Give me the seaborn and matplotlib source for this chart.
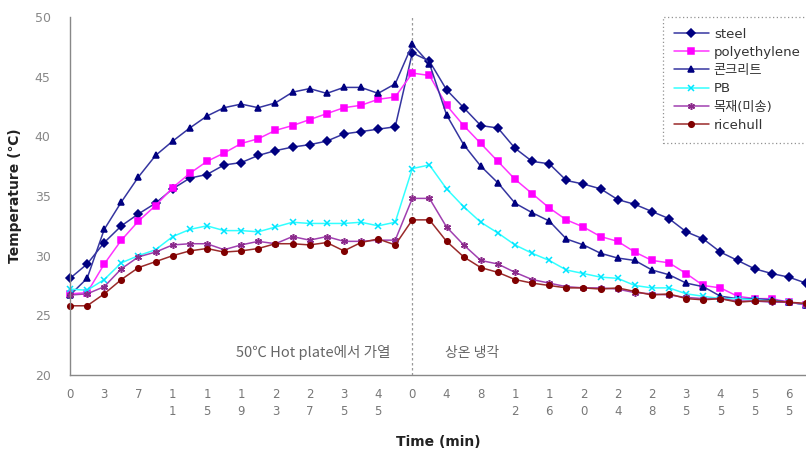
import numpy as np
import pandas as pd
import matplotlib
matplotlib.use("Agg")
import matplotlib.pyplot as plt
import seaborn as sns

# Sampling points: 20 readings while heating, 24 while cooling
heat_labels = ["0", "", "3", "", "7", "", "11", "", "15", "", "19", "", "23", "", "27", "", "35", "", "45", ""]
cool_labels = ["0", "", "4", "", "8", "", "12", "", "16", "", "20", "", "24", "", "28", "", "35", "", "45", "", "55", "", "65", ""]

steel = [28.1, 29.3, 31.1, 32.5, 33.5, 34.4, 35.6, 36.5, 36.8, 37.6, 37.8, 38.4, 38.8, 39.1, 39.3, 39.6, 40.2, 40.4, 40.6, 40.8,
         47.0, 46.3, 43.9, 42.4, 40.9, 40.7, 39.0, 37.9, 37.7, 36.3, 36.0, 35.6, 34.7, 34.3, 33.7, 33.1, 32.0, 31.4, 30.3, 29.6, 28.9, 28.5, 28.2, 27.7]
polyethylene = [26.8, 26.9, 29.3, 31.3, 32.9, 34.2, 35.7, 36.9, 37.9, 38.6, 39.4, 39.8, 40.5, 40.9, 41.4, 41.9, 42.4, 42.6, 43.1, 43.3,
                45.3, 45.1, 42.6, 40.9, 39.4, 37.9, 36.4, 35.2, 34.0, 33.0, 32.4, 31.6, 31.2, 30.3, 29.6, 29.4, 28.5, 27.5, 27.3, 26.6, 26.4, 26.4, 26.1, 25.9]
concrete = [26.7, 28.1, 32.2, 34.5, 36.6, 38.4, 39.6, 40.7, 41.7, 42.4, 42.7, 42.4, 42.8, 43.7, 44.0, 43.6, 44.1, 44.1, 43.6, 44.4,
            47.7, 46.1, 41.8, 39.3, 37.5, 36.1, 34.4, 33.6, 32.9, 31.4, 30.9, 30.2, 29.8, 29.6, 28.8, 28.4, 27.7, 27.4, 26.6, 26.4, 26.4, 26.3, 26.1, 25.9]
pb = [27.2, 27.1, 28.0, 29.4, 30.0, 30.5, 31.6, 32.2, 32.5, 32.1, 32.1, 32.0, 32.4, 32.8, 32.7, 32.7, 32.7, 32.8, 32.5, 32.8,
      37.3, 37.6, 35.6, 34.1, 32.8, 31.9, 30.9, 30.2, 29.6, 28.8, 28.5, 28.2, 28.1, 27.5, 27.3, 27.3, 26.8, 26.6, 26.4, 26.4, 26.3, 26.2, 26.1, 25.9]
wood = [26.7, 26.8, 27.4, 28.9, 29.9, 30.3, 30.9, 31.0, 31.0, 30.5, 30.9, 31.2, 31.0, 31.6, 31.3, 31.6, 31.2, 31.2, 31.3, 31.3,
        34.8, 34.8, 32.4, 30.9, 29.6, 29.3, 28.6, 28.0, 27.7, 27.4, 27.3, 27.3, 27.2, 26.9, 26.8, 26.7, 26.5, 26.4, 26.4, 26.2, 26.2, 26.1, 26.1, 25.9]
ricehull = [25.8, 25.8, 26.8, 28.0, 29.0, 29.5, 30.0, 30.4, 30.6, 30.3, 30.4, 30.6, 31.0, 31.0, 30.9, 31.1, 30.4, 31.1, 31.4, 30.9,
            33.0, 33.0, 31.2, 29.9, 29.0, 28.6, 28.0, 27.7, 27.5, 27.3, 27.3, 27.2, 27.3, 27.0, 26.7, 26.8, 26.4, 26.3, 26.4, 26.1, 26.2, 26.2, 26.1, 26.0]

series_names = ["steel", "polyethylene", "콘크리트", "PB", "목재(미송)", "ricehull"]
series_values = [steel, polyethylene, concrete, pb, wood, ricehull]

sns.set_style("white")
plt.rcParams["font.family"] = ["DejaVu Sans", "Noto Sans CJK KR"]

tick_labels = heat_labels + cool_labels
pos = np.arange(len(tick_labels))

frames = []
for name, vals in zip(series_names, series_values):
    frames.append(pd.DataFrame({"idx": pos, "temp": vals, "material": name}))
df = pd.concat(frames, ignore_index=True)

styles = {
    "steel":        dict(color="#000080", line="#3535a0", marker="D", ms=3.8),
    "polyethylene": dict(color="#ff00ff", line="#ff33ff", marker="s", ms=4.6),
    "콘크리트":       dict(color="#000080", line="#3535a0", marker="^", ms=4.8),
    "PB":           dict(color="#00e5ff", line="#33ffff", marker="x", ms=4.0),
    "목재(미송)":     dict(color="#8b2a8b", line="#a040b0", marker=(6, 2, 0), ms=5.0),
    "ricehull":     dict(color="#800000", line="#9a2a2a", marker="o", ms=4.0),
}

fig = plt.figure(figsize=(8.06, 4.55), dpi=100)
ax = fig.add_axes([70 / 806, 80 / 455, 736 / 806, 358 / 455])

for name in series_names:
    st = styles[name]
    sns.lineplot(data=df[df["material"] == name], x="idx", y="temp", ax=ax,
                 color=st["line"], lw=1.1, marker=st["marker"], markersize=st["ms"],
                 markerfacecolor=st["color"], markeredgecolor=st["color"],
                 markeredgewidth=1.1, label=name, clip_on=False)

ax.set_xlim(0, 43)
ax.set_ylim(20, 50)
ax.set_yticks(np.arange(20, 51, 5))
ax.set_xticks(pos)
ax.set_xticklabels(["\n".join(list(s)) for s in tick_labels])
for lbl in ax.get_xticklabels():
    lbl.set_linespacing(1.45)

ax.tick_params(axis="x", direction="in", length=4, color="#888888", labelsize=8.5,
               labelcolor="#777777", pad=9)
ax.tick_params(axis="y", direction="out", length=4, color="#888888", labelsize=9,
               labelcolor="#888888", pad=10)

for side in ("top", "right"):
    ax.spines[side].set_visible(False)
for side in ("left", "bottom"):
    ax.spines[side].set_color("#888888")
    ax.spines[side].set_linewidth(1.0)

# boundary between heating and cooling
ax.axvline(20, color="#999999", lw=0.9, ls=(0, (2, 2)), zorder=0)

ax.text(14.2, 21.85, "50℃ Hot plate에서 가열", ha="center", va="center",
        fontsize=10.5, color="#666666", family=["Noto Sans CJK KR", "DejaVu Sans"])
ax.text(23.5, 21.85, "상온 냉각", ha="center", va="center",
        fontsize=10, color="#666666", family=["Noto Sans CJK KR", "DejaVu Sans"])

ax.set_xlabel("Time (min)", fontsize=10, fontweight="bold", color="#222222", labelpad=12)
ax.set_ylabel("Temperature (℃)", fontsize=10, fontweight="bold", color="#222222", labelpad=9)

leg = ax.legend(loc="upper left", bbox_to_anchor=(663 / 806, 1 - 17 / 455),
                bbox_transform=fig.transFigure, borderaxespad=0, frameon=True,
                fancybox=False, fontsize=9.5, handlelength=2.7, labelspacing=0.4,
                handletextpad=0.35, borderpad=0.8)
frame = leg.get_frame()
frame.set_edgecolor("#777777")
frame.set_linestyle((0, (1, 2)))
frame.set_linewidth(0.9)
for t in leg.get_texts():
    t.set_color("#333333")
    t.set_family(["DejaVu Sans", "Noto Sans CJK KR"])

fig.savefig("out.png", dpi=100)
